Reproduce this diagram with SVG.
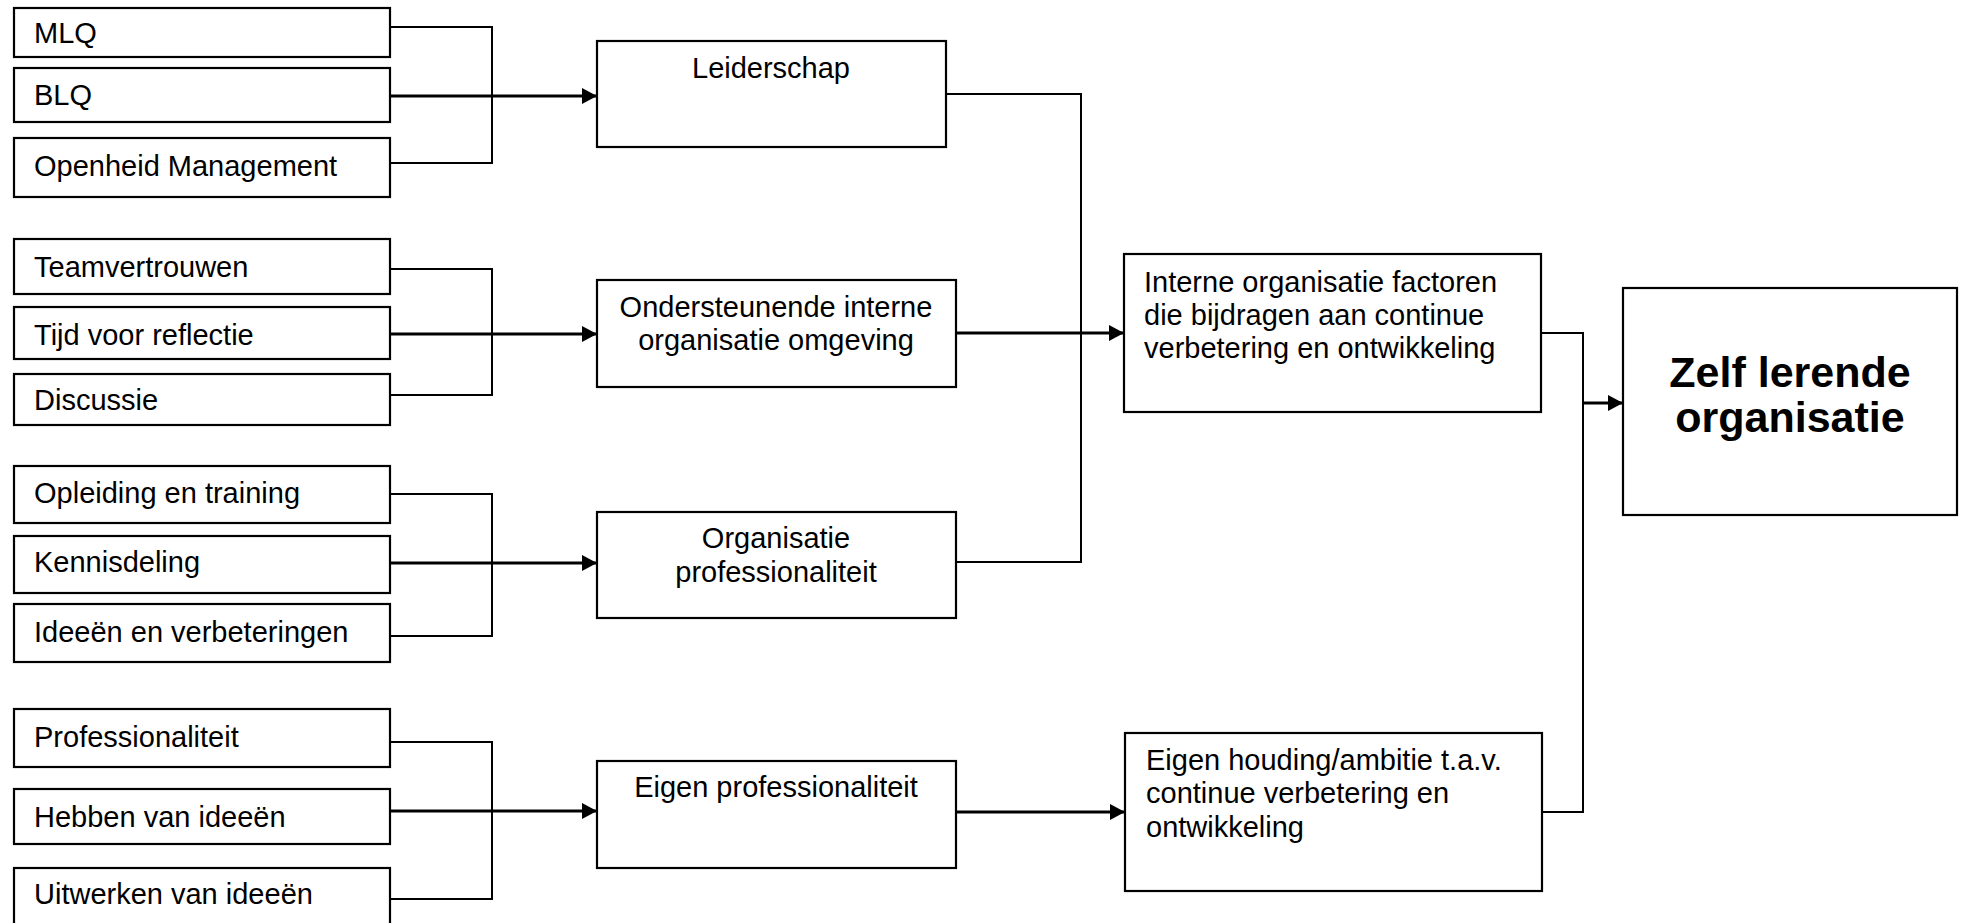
<svg xmlns="http://www.w3.org/2000/svg" width="1964" height="923" viewBox="0 0 1964 923">
<style>
.box{fill:#fff;stroke:#000;stroke-width:2.2}
.t{font-family:"Liberation Sans",Arial,sans-serif;font-size:29px;fill:#000}
.c{text-anchor:middle}
.b{font-weight:bold;font-size:43px}
.ln{fill:none;stroke:#000;stroke-width:2}
.ar{fill:none;stroke:#000;stroke-width:3;marker-end:url(#ah)}
</style>
<defs>
<marker id="ah" markerUnits="userSpaceOnUse" markerWidth="16" markerHeight="16" refX="15" refY="8" orient="auto">
<path d="M0,0 L15,8 L0,16 z" fill="#000"/>
</marker>
</defs>
<rect width="1964" height="923" fill="#fff"/>
<g id="connectors">
<path class="ln" d="M391,27 H492 V163 H391"/>
<path class="ar" d="M391,96 H597"/>
<path class="ln" d="M391,269 H492 V395 H391"/>
<path class="ar" d="M391,334 H597"/>
<path class="ln" d="M391,494 H492 V636 H391"/>
<path class="ar" d="M391,563 H597"/>
<path class="ln" d="M391,742 H492 V899 H391"/>
<path class="ar" d="M391,811 H597"/>
<path class="ln" d="M946,94 H1081 V562 H956"/>
<path class="ar" d="M956,333 H1124"/>
<path class="ln" d="M1541,333 H1583 V812 H1541"/>
<path class="ar" d="M1583,403 H1623"/>
<path class="ar" d="M956,812 H1125"/>
</g>
<g id="mlq"><rect class="box" x="14" y="8" width="376" height="49"/><text class="t" x="34" y="43">MLQ</text></g>
<g id="blq"><rect class="box" x="14" y="68" width="376" height="54"/><text class="t" x="34" y="105">BLQ</text></g>
<g id="openheid"><rect class="box" x="14" y="138" width="376" height="59"/><text class="t" x="34" y="176">Openheid Management</text></g>
<g id="teamvertrouwen"><rect class="box" x="14" y="239" width="376" height="55"/><text class="t" x="34" y="277">Teamvertrouwen</text></g>
<g id="tijd"><rect class="box" x="14" y="307" width="376" height="52"/><text class="t" x="34" y="345">Tijd voor reflectie</text></g>
<g id="discussie"><rect class="box" x="14" y="374" width="376" height="51"/><text class="t" x="34" y="410">Discussie</text></g>
<g id="opleiding"><rect class="box" x="14" y="466" width="376" height="57"/><text class="t" x="34" y="503">Opleiding en training</text></g>
<g id="kennisdeling"><rect class="box" x="14" y="536" width="376" height="57"/><text class="t" x="34" y="572">Kennisdeling</text></g>
<g id="ideeen"><rect class="box" x="14" y="604" width="376" height="58"/><text class="t" x="34" y="642">Ideeën en verbeteringen</text></g>
<g id="professionaliteit"><rect class="box" x="14" y="709" width="376" height="58"/><text class="t" x="34" y="747">Professionaliteit</text></g>
<g id="hebben"><rect class="box" x="14" y="789" width="376" height="55"/><text class="t" x="34" y="827">Hebben van ideeën</text></g>
<g id="uitwerken"><rect class="box" x="14" y="868" width="376" height="62"/><text class="t" x="34" y="904">Uitwerken van ideeën</text></g>
<g id="leiderschap"><rect class="box" x="597" y="41" width="349" height="106"/><text class="t c" x="771" y="78">Leiderschap</text></g>
<g id="ondersteunende"><rect class="box" x="597" y="280" width="359" height="107"/><text class="t c" x="776" y="317">Ondersteunende interne</text><text class="t c" x="776" y="350">organisatie omgeving</text></g>
<g id="orgprof"><rect class="box" x="597" y="512" width="359" height="106"/><text class="t c" x="776" y="548">Organisatie</text><text class="t c" x="776" y="582">professionaliteit</text></g>
<g id="eigenprof"><rect class="box" x="597" y="761" width="359" height="107"/><text class="t c" x="776" y="797">Eigen professionaliteit</text></g>
<g id="interne"><rect class="box" x="1124" y="254" width="417" height="158"/><text class="t" x="1144" y="292">Interne organisatie factoren</text><text class="t" x="1144" y="325">die bijdragen aan continue</text><text class="t" x="1144" y="358">verbetering en ontwikkeling</text></g>
<g id="eigenhouding"><rect class="box" x="1125" y="733" width="417" height="158"/><text class="t" x="1146" y="770">Eigen houding/ambitie t.a.v.</text><text class="t" x="1146" y="803">continue verbetering en</text><text class="t" x="1146" y="837">ontwikkeling</text></g>
<g id="zelf"><rect class="box" x="1623" y="288" width="334" height="227"/><text class="t c b" x="1790" y="387">Zelf lerende</text><text class="t c b" x="1790" y="432">organisatie</text></g>
</svg>
